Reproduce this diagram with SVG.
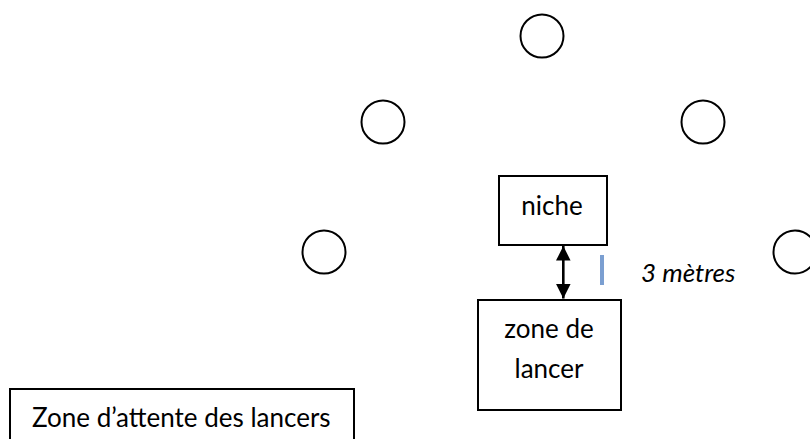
<svg xmlns="http://www.w3.org/2000/svg" width="810" height="439" viewBox="0 0 810 439">
  <style>
    .bg { fill: #ffffff; }
    .spot { fill: none; stroke: #000000; stroke-width: 2; }
    .box { fill: #ffffff; stroke: #000000; stroke-width: 2; }
    .lbl { font-family: Lato, "Open Sans", "Liberation Sans", sans-serif; font-size: 26px; fill: #000000; }
    .mid { text-anchor: middle; }
    .it { font-style: italic; }
    .link { stroke: #000000; stroke-width: 2.6; fill: none; }
    .tick { fill: #7b9fd1; }
  </style>
  <defs>
    <marker id="head" viewBox="0 0 10 10" refX="10" refY="5" markerWidth="5.6" markerHeight="5.6" markerUnits="strokeWidth" orient="auto-start-reverse">
      <path d="M0,0 L10,5 L0,10 Z" fill="#000000"/>
    </marker>
  </defs>

  <rect class="bg" x="0" y="0" width="810" height="439"/>

  <!-- throwing targets arranged in an arc -->
  <g id="target-top"><circle class="spot" cx="542" cy="36" r="21.5"/></g>
  <g id="target-mid-left"><circle class="spot" cx="383" cy="122" r="21.5"/></g>
  <g id="target-mid-right"><circle class="spot" cx="703" cy="122" r="21.5"/></g>
  <g id="target-low-left"><circle class="spot" cx="324" cy="252" r="21.5"/></g>
  <g id="target-low-right"><circle class="spot" cx="795" cy="252" r="21.5"/></g>

  <!-- niche -->
  <g id="niche">
    <rect class="box" x="499" y="176" width="108" height="69"/>
    <text class="lbl mid" x="552" y="215">niche</text>
  </g>

  <!-- throwing zone -->
  <g id="zone-lancer">
    <rect class="box" x="478" y="300" width="143" height="110"/>
    <text class="lbl mid" x="549" y="338">zone de</text>
    <text class="lbl mid" x="549" y="378">lancer</text>
  </g>

  <!-- waiting zone -->
  <g id="zone-attente">
    <path class="box" d="M10,445 L10,389 L354,389 L354,445"/>
    <text class="lbl" x="32" y="426.5">Zone d’attente des lancers</text>
  </g>

  <!-- distance label -->
  <g id="distance">
    <rect class="tick" x="600" y="255" width="4" height="30"/>
    <text class="lbl it" x="641" y="282">3 mètres</text>
  </g>

  <!-- connectors -->
  <g id="connectors">
    <line class="link" x1="563.3" y1="246" x2="563.3" y2="298.5" marker-start="url(#head)" marker-end="url(#head)"/>
  </g>
</svg>
